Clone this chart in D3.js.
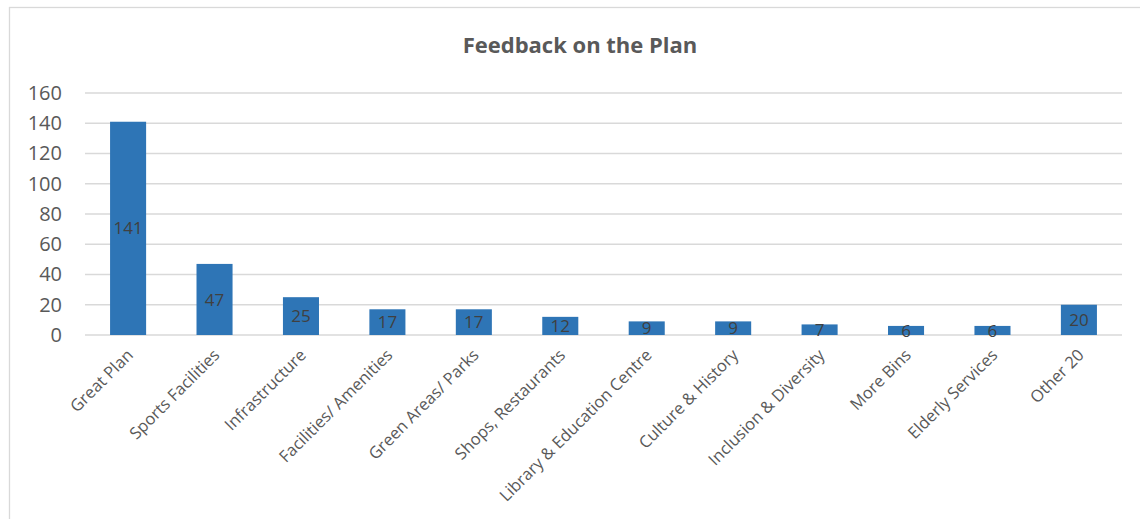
<!DOCTYPE html>
<html>
<head>
<meta charset="utf-8">
<script src="https://cdn.jsdelivr.net/npm/d3@7"></script>
<style>
html,body{margin:0;padding:0;background:#fff;}
svg{display:block;font-family:"Open Sans",sans-serif;}
</style>
</head>
<body>
<svg id="chart" width="1140" height="519"></svg>
<script>
const title = "Feedback on the Plan";
const categories = ["Great Plan","Sports Facilities","Infrastructure","Facilities/ Amenities","Green Areas/ Parks","Shops, Restaurants","Library & Education Centre","Culture & History","Inclusion & Diversity","More Bins","Elderly Services","Other 20"];
const values = [141,47,25,17,17,12,9,9,7,6,6,20];
const yTicks = [0,20,40,60,80,100,120,140,160];

const svg = d3.select("#chart");
const plotLeft = 85, plotRight = 1122, plotTop = 93, plotBottom = 335;

// frame
svg.append("rect").attr("x",9.5).attr("y",7.5).attr("width",1200).attr("height",600)
  .attr("fill","none").attr("stroke","#d9d9d9").attr("stroke-width",1.3);

const x = d3.scaleBand().domain(categories).range([plotLeft,plotRight]).paddingInner(0.583).paddingOuter(0.29);
const y = d3.scaleLinear().domain([0,160]).range([plotBottom,plotTop]);

// gridlines
svg.append("g").selectAll("line").data(yTicks).join("line")
  .attr("x1",plotLeft).attr("x2",plotRight)
  .attr("y1",d=>y(d)).attr("y2",d=>y(d))
  .attr("stroke","#d9d9d9").attr("stroke-width",1.4);

// y axis labels
const yAxis = d3.axisLeft(y).tickValues(yTicks).tickSize(0).tickPadding(0);
const ya = svg.append("g").attr("transform",`translate(62,0)`).call(yAxis);
ya.select(".domain").remove();
ya.selectAll("text").attr("fill","#595959").style("font-size","20px").style("font-family","'Open Sans',sans-serif");

// bars
svg.append("g").selectAll("rect").data(values).join("rect")
  .attr("x",(d,i)=>x(categories[i]))
  .attr("y",d=>y(d))
  .attr("width",x.bandwidth())
  .attr("height",d=>y(0)-y(d))
  .attr("fill","#2E75B6");

// data labels
svg.append("g").selectAll("text").data(values).join("text")
  .attr("x",(d,i)=>x(categories[i])+x.bandwidth()/2)
  .attr("y",d=>(y(d)+y(0))/2)
  .attr("dy","0.36em")
  .attr("text-anchor","middle")
  .attr("fill","#404040")
  .style("font-size","17px")
  .text(d=>d);

// category labels
const xAxis = d3.axisBottom(x).tickSize(0).tickPadding(0);
const xa = svg.append("g").attr("transform",`translate(0,${plotBottom})`).call(xAxis);
xa.select(".domain").remove();
xa.selectAll("text")
  .attr("fill","#595959")
  .style("font-size","16.5px")
  .style("font-family","'Open Sans',sans-serif")
  .attr("text-anchor","end")
  .attr("transform","translate(2,17) rotate(-45)")
  .attr("x",0).attr("y",0).attr("dy","0.35em");

// title
svg.append("text").attr("x",580).attr("y",53).attr("text-anchor","middle")
  .attr("fill","#595959").style("font-size","22px").style("font-weight","bold")
  .text(title);
</script>
</body>
</html>
